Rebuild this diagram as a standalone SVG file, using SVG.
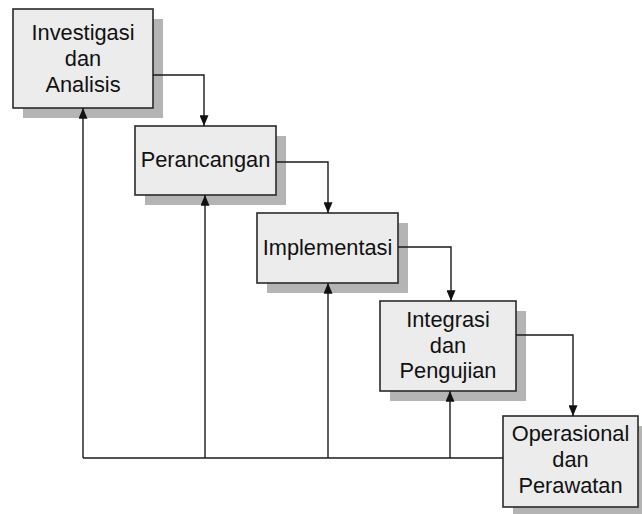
<svg xmlns="http://www.w3.org/2000/svg" width="642" height="514" viewBox="0 0 642 514">
<defs>
<marker id="arr" viewBox="0 0 12 10" refX="12" refY="5" markerWidth="12" markerHeight="9" markerUnits="userSpaceOnUse" orient="auto">
<path d="M0,0 L12,5 L0,10 Z" fill="#111"/>
</marker>
<style>
.shadow{fill:#b4b4b4;stroke:none}
.box{fill:#ececec;stroke:#2a2a2a;stroke-width:1.6}
.lbl{font-family:"Liberation Sans",Arial,sans-serif;font-size:21.8px;fill:#111;text-anchor:middle}
.conn{fill:none;stroke:#1a1a1a;stroke-width:1.4}
</style>
</defs>
<rect width="642" height="514" fill="#ffffff"/>
<g id="node1">
<rect class="shadow" x="23" y="19" width="140" height="99"/>
<rect class="box" x="13" y="9" width="140" height="99"/>
<text class="lbl" x="83" y="40">Investigasi</text>
<text class="lbl" x="83" y="66">dan</text>
<text class="lbl" x="83" y="92">Analisis</text>
</g>
<g id="node2">
<rect class="shadow" x="145" y="136" width="141" height="69"/>
<rect class="box" x="135" y="126" width="141" height="69"/>
<text class="lbl" x="205.5" y="167">Perancangan</text>
</g>
<g id="node3">
<rect class="shadow" x="267" y="223" width="141" height="70"/>
<rect class="box" x="257" y="213" width="141" height="70"/>
<text class="lbl" x="327.5" y="255">Implementasi</text>
</g>
<g id="node4">
<rect class="shadow" x="390" y="311" width="136" height="90"/>
<rect class="box" x="380" y="301" width="136" height="90"/>
<text class="lbl" x="448" y="327">Integrasi</text>
<text class="lbl" x="448" y="353">dan</text>
<text class="lbl" x="448" y="378">Pengujian</text>
</g>
<g id="node5">
<rect class="shadow" x="513" y="426" width="135" height="91"/>
<rect class="box" x="503" y="416" width="135" height="91"/>
<text class="lbl" x="570.5" y="441">Operasional</text>
<text class="lbl" x="570.5" y="467">dan</text>
<text class="lbl" x="570.5" y="493">Perawatan</text>
</g>
<g id="connectors">
<polyline class="conn" points="153,75 204,75 204,126" marker-end="url(#arr)"/>
<polyline class="conn" points="276,162 328,162 328,213" marker-end="url(#arr)"/>
<polyline class="conn" points="398,247 451,247 451,301" marker-end="url(#arr)"/>
<polyline class="conn" points="516,335 573,335 573,416" marker-end="url(#arr)"/>
<polyline class="conn" points="503,458 83,458"/>
<polyline class="conn" points="83,458 83,108" marker-end="url(#arr)"/>
<polyline class="conn" points="205,458 205,195" marker-end="url(#arr)"/>
<polyline class="conn" points="328,458 328,283" marker-end="url(#arr)"/>
<polyline class="conn" points="450,458 450,391" marker-end="url(#arr)"/>
</g>
</svg>
